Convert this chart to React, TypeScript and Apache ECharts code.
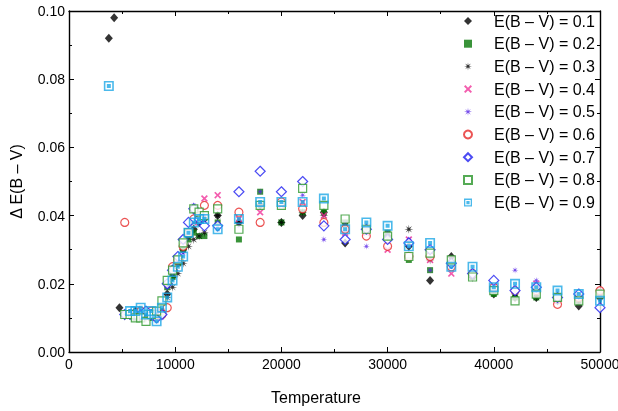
import React, { useEffect, useRef } from "react";
import * as echarts from "echarts";

const TEMPS = [
  3750, 4250, 4750, 5250, 5750, 6250, 6750, 7250, 7750, 8250, 8750, 9250, 9750,
  10250, 10750, 11250, 11750, 12250, 12750, 14000, 16000, 18000, 20000, 22000,
  24000, 26000, 28000, 30000, 32000, 34000, 36000, 38000, 40000, 42000, 44000,
  46000, 48000, 50000,
];

const EBV_01 = [0.092, 0.098, 0.013, 0.011, 0.011, 0.012, 0.011, 0.011, 0.011, 0.010, 0.011, 0.017, 0.022, 0.026, 0.030, 0.034, 0.036, 0.038, 0.039,
  0.040, 0.038, 0.043, 0.038, 0.040, 0.041, 0.032, 0.036, 0.034, 0.031, 0.021, 0.028, 0.022, 0.017, 0.016, 0.016, 0.015, 0.0135, 0.016];
const EBV_02 = [null, null, null, 0.011, 0.011, 0.010, 0.010, 0.011, 0.010, 0.011, 0.012, 0.019, 0.022, 0.026, 0.030, 0.033, 0.035, 0.034, 0.034,
  0.038, 0.033, 0.047, 0.038, 0.041, 0.041, 0.038, 0.036, 0.035, 0.027, 0.024, 0.026, 0.022, 0.017, 0.016, 0.016, 0.016, 0.015, 0.017];
const EBV_03 = [null, null, null, 0.0105, 0.011, 0.011, 0.011, 0.010, 0.011, 0.011, 0.011, 0.016, 0.019, 0.023, 0.026, 0.031, 0.033, 0.034, 0.035,
  0.040, 0.038, 0.043, 0.038, 0.041, 0.040, 0.037, 0.036, 0.034, 0.036, 0.027, 0.027, 0.022, 0.018, 0.017, 0.016, 0.015, 0.015, 0.016];
const EBV_04 = [null, null, null, 0.011, 0.011, 0.011, 0.010, 0.011, 0.010, 0.011, 0.012, 0.020, 0.024, 0.027, 0.032, 0.035, 0.038, 0.039, 0.045,
  0.046, 0.039, 0.041, 0.043, 0.044, 0.040, 0.035, 0.035, 0.030, 0.033, 0.027, 0.023, 0.023, 0.019, 0.018, 0.020, 0.015, 0.016, 0.018];
const EBV_05 = [null, null, null, 0.011, 0.011, 0.011, 0.012, 0.011, 0.011, 0.010, 0.010, 0.019, 0.023, 0.026, 0.029, 0.034, 0.043, 0.040, 0.040,
  0.037, 0.037, 0.047, 0.044, 0.046, 0.033, 0.038, 0.031, 0.035, 0.033, 0.024, 0.026, 0.023, 0.019, 0.024, 0.021, 0.016, 0.017, 0.016];
const EBV_06 = [null, null, null, 0.038, 0.011, 0.011, 0.012, 0.011, 0.012, 0.011, 0.011, 0.013, 0.025, 0.027, 0.031, 0.035, 0.039, 0.040, 0.043,
  0.043, 0.041, 0.038, 0.044, 0.042, 0.038, 0.036, 0.034, 0.031, 0.028, 0.028, 0.025, 0.023, 0.019, 0.018, 0.018, 0.014, 0.016, 0.018];
const EBV_07 = [null, null, null, 0.011, 0.011, 0.011, 0.011, 0.012, 0.011, 0.010, 0.011, 0.020, 0.024, 0.028, 0.033, 0.038, 0.042, 0.039, 0.037,
  0.037, 0.047, 0.053, 0.047, 0.050, 0.037, 0.033, 0.036, 0.033, 0.032, 0.030, 0.026, 0.023, 0.021, 0.018, 0.019, 0.016, 0.017, 0.013];
const EBV_08 = [null, null, null, 0.011, 0.011, 0.010, 0.010, 0.009, 0.011, 0.012, 0.015, 0.021, 0.024, 0.027, 0.032, 0.035, 0.042, 0.041, 0.040,
  0.042, 0.036, 0.043, 0.043, 0.048, 0.043, 0.039, 0.036, 0.034, 0.028, 0.029, 0.027, 0.022, 0.018, 0.015, 0.017, 0.016, 0.015, 0.017];
const EBV_09 = [0.078, null, null, null, 0.012, 0.012, 0.013, 0.011, 0.012, 0.009, 0.013, 0.016, 0.021, 0.025, 0.028, 0.035, 0.038, 0.039, 0.039,
  0.036, 0.039, 0.044, 0.044, 0.044, 0.045, 0.036, 0.038, 0.037, 0.031, 0.032, 0.025, 0.025, 0.019, 0.020, 0.019, 0.018, 0.017, 0.015];

const SERIES_NAMES = [
  "E(B – V) = 0.1", "E(B – V) = 0.2", "E(B – V) = 0.3", "E(B – V) = 0.4", "E(B – V) = 0.5",
  "E(B – V) = 0.6", "E(B – V) = 0.7", "E(B – V) = 0.8", "E(B – V) = 0.9",
];
const SERIES_VALUES = [EBV_01, EBV_02, EBV_03, EBV_04, EBV_05, EBV_06, EBV_07, EBV_08, EBV_09];

function starPath(n: number, rOut: number, rIn: number) {
  const pts: string[] = [];
  for (let i = 0; i < n * 2; i++) {
    const a = (i * Math.PI) / n - Math.PI / 2;
    const r = i % 2 === 0 ? rOut : rIn;
    pts.push(`${(10 + r * Math.cos(a)).toFixed(3)},${(10 + r * Math.sin(a)).toFixed(3)}`);
  }
  return "path://M" + pts.join(" L") + " Z";
}
const t = 1.7;
const CROSS = `path://M${t},0 L5,${5 - t} L${10 - t},0 L10,${t} L${5 + t},5 L10,${10 - t} L${10 - t},10 L5,${5 + t} L${t},10 L0,${10 - t} L${5 - t},5 L0,${t} Z`;
const BOXDOT = "path://M0,0 L10,0 L10,10 L0,10 Z M1.6,1.6 L1.6,8.4 L8.4,8.4 L8.4,1.6 Z M3,3 L7,3 L7,7 L3,7 Z";
const STAR = starPath(8, 10, 2.8);

const STYLES: any[] = [
  { symbol: "diamond", symbolSize: [8, 9], itemStyle: { color: "#000" } },
  { symbol: "rect", symbolSize: 6, itemStyle: { color: "#087808" } },
  { symbol: STAR, symbolSize: 9, itemStyle: { color: "#000" } },
  { symbol: CROSS, symbolSize: 7, itemStyle: { color: "#f0359a" } },
  { symbol: STAR, symbolSize: 7, itemStyle: { color: "#5522e6" } },
  { symbol: "circle", symbolSize: 8, itemStyle: { color: "#fff", borderColor: "#e62828", borderWidth: 1.2 } },
  { symbol: "diamond", symbolSize: 10, itemStyle: { color: "#fff", borderColor: "#1e1ef0", borderWidth: 1.2 } },
  { symbol: "rect", symbolSize: 8, itemStyle: { color: "#fff", borderColor: "#2a962a", borderWidth: 1.2 } },
  { symbol: BOXDOT, symbolSize: 10, itemStyle: { color: "#1ea8e6" } },
];

const FONT = "Liberation Sans, Arial, Helvetica, sans-serif";

export default function App() {
  const ref = useRef<HTMLDivElement>(null);
  useEffect(() => {
    if (!ref.current) return;
    const chart = echarts.init(ref.current, undefined, { renderer: "svg" });
    const axisCommon = {
      axisLine: { show: true, onZero: false, lineStyle: { color: "#000", width: 1.4 } },
      axisTick: { show: true, inside: true, length: 5, lineStyle: { color: "#000", width: 1 } },
      minorTick: { show: true, splitNumber: 2, length: 3, lineStyle: { color: "#000", width: 1 } },
      splitLine: { show: false },
    };
    const series = SERIES_NAMES.map((name, k) => ({
      name,
      type: "scatter",
      xAxisIndex: 0,
      yAxisIndex: 0,
      ...STYLES[k],
      data: TEMPS.map((tt, i) => (SERIES_VALUES[k][i] == null ? null : [tt, SERIES_VALUES[k][i]])).filter(
        (d) => d !== null
      ),
    }));
    chart.setOption({
      animation: false,
      grid: { left: 69, right: 18, top: 11, bottom: 59, containLabel: false, outerBoundsMode: "none" },
      xAxis: [
        {
          type: "value", min: 0, max: 50000, interval: 10000, position: "bottom",
          ...axisCommon,
          axisLabel: { margin: 5, fontSize: 14, color: "#000", fontFamily: FONT, formatter: (v: number) => String(v) },
        },
        {
          type: "value", min: 0, max: 50000, interval: 10000, position: "top",
          ...axisCommon,
          axisLabel: { show: false },
        },
      ],
      yAxis: [
        {
          type: "value", min: 0, max: 0.1, interval: 0.02, position: "left",
          ...axisCommon,
          axisLabel: { margin: 4, fontSize: 14, color: "#000", fontFamily: FONT, formatter: (v: number) => v.toFixed(2) },
          name: "Δ E(B – V)",
          nameLocation: "middle",
          nameGap: 45,
          nameTextStyle: { fontSize: 16, color: "#000", fontFamily: FONT },
        },
        {
          type: "value", min: 0, max: 0.1, interval: 0.02, position: "right",
          ...axisCommon,
          axisLabel: { show: false },
        },
      ],
      legend: {
        orient: "vertical",
        left: 463,
        top: 13,
        itemWidth: 8,
        itemHeight: 8,
        itemGap: 6.7,
        padding: 0,
        textStyle: { fontSize: 16, color: "#000", fontFamily: FONT, lineHeight: 16, padding: [0, 0, 0, 17] },
        data: SERIES_NAMES,
      },
      graphic: [
        {
          type: "text",
          x: 316,
          y: 397,
          style: { text: "Temperature", fontSize: 16, fontFamily: FONT, fill: "#000", textAlign: "center", textVerticalAlign: "middle" },
        },
      ],
      series,
    });
    return () => chart.dispose();
  }, []);
  return <div ref={ref} style={{ position: "fixed", left: 0, top: 0, width: 618, height: 411 }} />;
}
